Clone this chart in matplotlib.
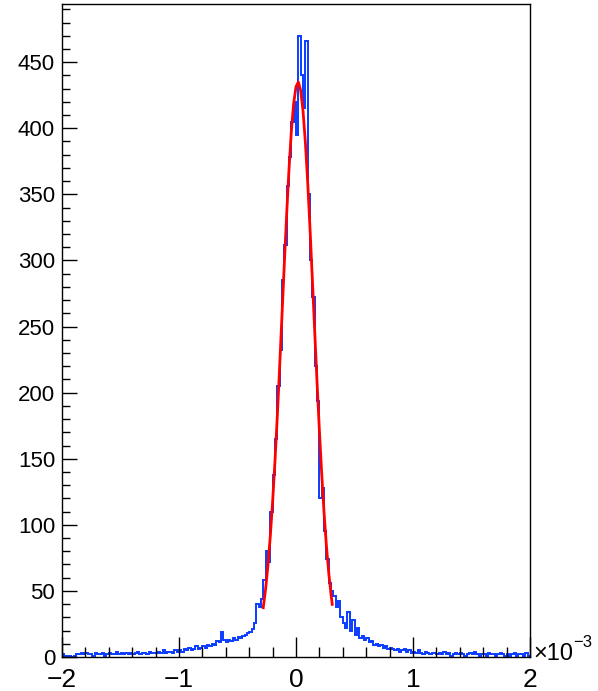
import matplotlib.pyplot as plt
import numpy as np

# histogram: 200 bins from -2 to 2 (x in units of 1e-3)
x_lo = -2.0
x_hi = 2.0
counts = [
    2, 1, 0, 1, 0, 1, 2, 2, 3, 2,
    3, 2, 2, 1, 3, 2, 2, 3, 1, 2,
    3, 2, 2, 4, 2, 3, 2, 3, 2, 3,
    2, 3, 4, 2, 3, 3, 2, 4, 3, 3,
    3, 4, 3, 5, 3, 4, 4, 3, 5, 4,
    5, 4, 6, 5, 7, 5, 6, 8, 6, 7,
    8, 7, 9, 8, 10, 9, 12, 11, 19, 13,
    11, 13, 12, 14, 13, 15, 14, 16, 17, 18,
    19, 21, 26, 40, 38, 44, 58, 80, 72, 110,
    138, 165, 205, 232, 285, 312, 356, 378, 405, 420,
    395, 470, 440, 415, 466, 350, 300, 272, 220, 194,
    120, 128, 95, 74, 56, 50, 46, 38, 42, 30,
    26, 22, 34, 20, 28, 17, 22, 14, 16, 13,
    14, 11, 12, 9, 10, 8, 9, 7, 8, 6,
    7, 6, 5, 6, 4, 5, 6, 4, 5, 3,
    4, 3, 5, 3, 2, 4, 3, 2, 3, 3,
    2, 3, 2, 4, 2, 3, 1, 2, 3, 2,
    3, 2, 1, 2, 3, 2, 4, 2, 1, 2,
    2, 1, 3, 2, 2, 1, 2, 3, 2, 1,
    2, 1, 2, 3, 1, 2, 2, 1, 3, 1,
]

# fitted curve
fit_x = [-0.28, -0.26, -0.24, -0.22, -0.20, -0.18, -0.16, -0.14, -0.12, -0.10,
         -0.08, -0.06, -0.04, -0.02, 0.00, 0.02, 0.04, 0.06, 0.08, 0.10,
         0.12, 0.14, 0.16, 0.18, 0.20, 0.22, 0.24, 0.26, 0.28, 0.30, 0.31]
fit_y = [37.3, 51.3, 69.2, 91.0, 117.2, 147.6, 181.8, 219.0, 258.0, 297.1,
         334.7, 368.8, 397.4, 418.7, 431.5, 435.0, 428.6, 413.2, 389.5, 359.1,
         323.7, 285.4, 246.1, 207.6, 171.2, 138.1, 108.9, 84.0, 63.4, 46.8, 39.8]

plt.rcParams['font.family'] = ['Liberation Sans', 'DejaVu Sans']

fig = plt.figure(figsize=(5.98, 6.91), dpi=100)
ax = fig.add_axes([62 / 598, 34 / 691, 468 / 598, 653 / 691])

edges = np.linspace(x_lo, x_hi, len(counts) + 1)
ax.stairs(counts, edges, color='#0a3cff', lw=1.4)
ax.plot(fit_x, fit_y, color='#ff0000', lw=2.0)

ax.set_xlim(x_lo, x_hi)
ax.set_ylim(0, 494)

ax.set_xticks([-2, -1, 0, 1, 2])
ax.set_xticklabels(['\u22122', '\u22121', '0', '1', '2'])
ax.set_xticks(np.arange(-2, 2.01, 0.2), minor=True)
ax.set_yticks(np.arange(0, 451, 50))
ax.set_yticks(np.arange(0, 491, 10), minor=True)

ax.tick_params(axis='x', which='major', direction='in', length=14.4, width=1,
               labelsize=19, pad=8, top=False)
ax.tick_params(axis='x', which='minor', direction='in', length=7.2, width=1, top=False)
ax.tick_params(axis='y', which='major', direction='in', length=10.8, width=1,
               labelsize=16, pad=5, right=False)
ax.tick_params(axis='y', which='minor', direction='in', length=5.8, width=1, right=False)
for s in ax.spines.values():
    s.set_linewidth(1)

fig.text(533 / 598, (691 - 660) / 691, '\u00d710', fontsize=17, ha='left', va='baseline')
fig.text(573 / 598, (691 - 647) / 691, '\u22123', fontsize=12, ha='left', va='baseline')

fig.savefig('out.png', dpi=100)
